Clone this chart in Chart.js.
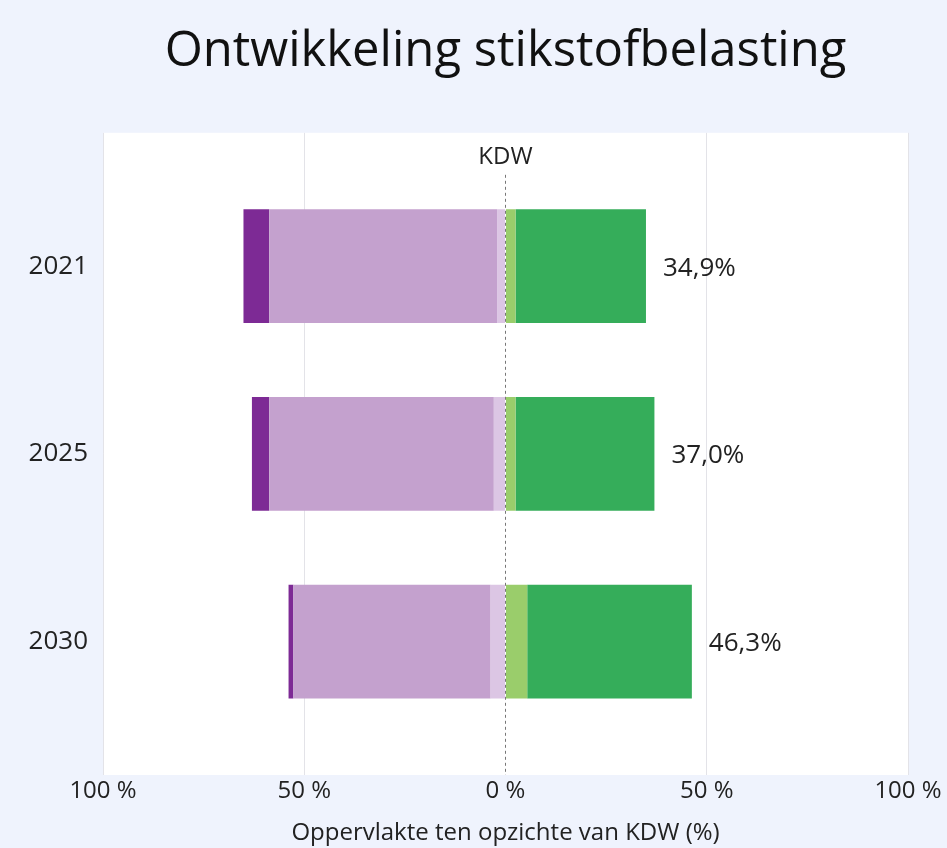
<!DOCTYPE html>
<html lang="nl">
<head>
<meta charset="utf-8">
<title>Ontwikkeling stikstofbelasting</title>
<script src="https://cdn.jsdelivr.net/npm/chart.js@4.4.1/dist/chart.umd.min.js"></script>
<style>
  html, body { margin: 0; padding: 0; background: #eff3fd; }
  canvas { display: block; }
</style>
</head>
<body>
<canvas id="grafico" width="947" height="848"></canvas>
<script>
// jaren (y-as)
const jaren = ['2021', '2025', '2030'];

// aandeel oppervlakte per klasse (%), links = overbelast, rechts = onder KDW
const lichtPaars = [2.1, 2.9, 3.7];
const middenPaars = [56.6, 55.8, 49.0];
const donkerPaars = [6.4, 4.3, 1.2];
const lichtGroen = [2.5, 2.5, 5.4];
const groen = [32.4, 34.5, 40.9];

// tick labels x-as
const xTicks = [-100, -50, 0, 50, 100];

const fontFam = '"Open Sans", "Noto Sans", sans-serif';

function punten(waarden, teken) {
    return waarden.map((v, i) => ({ x: teken * v, y: i }));
}

// witte achtergrond van het plotvlak
const plotAchtergrond = {
    id: 'plotAchtergrond',
    beforeDraw(chart) {
        const { ctx, chartArea } = chart;
        ctx.save();
        ctx.fillStyle = '#ffffff';
        ctx.fillRect(chartArea.left, chartArea.top, chartArea.right - chartArea.left, chartArea.bottom - chartArea.top);
        ctx.restore();
    }
};

// KDW-lijn en percentage labels
const extraTekst = {
    id: 'extraTekst',
    afterDatasetsDraw(chart) {
        const { ctx, chartArea } = chart;
        const x0 = chart.scales.x.getPixelForValue(0);
        ctx.save();
        ctx.strokeStyle = '#777777';
        ctx.lineWidth = 1;
        ctx.setLineDash([3, 3]);
        ctx.beginPath();
        ctx.moveTo(x0, chartArea.top + 42);
        ctx.lineTo(x0, chartArea.bottom);
        ctx.stroke();
        ctx.setLineDash([]);

        ctx.fillStyle = '#222222';
        ctx.font = '24px ' + fontFam;
        ctx.textAlign = 'center';
        ctx.textBaseline = 'middle';
        ctx.fillText('KDW', x0, chartArea.top + 24);

        const meta = chart.getDatasetMeta(chart.data.datasets.length - 1);
        ctx.textAlign = 'left';
        ctx.font = '26px ' + fontFam;
        meta.data.forEach((bar, i) => {
            const totaal = lichtGroen[i] + groen[i];
            ctx.fillText(totaal.toFixed(1).replace('.', ',') + '%', bar.x + 17, bar.y + 2);
        });
        ctx.restore();
    }
};

const ctx = document.getElementById('grafico').getContext('2d');

const grafico = new Chart(ctx, {
    type: 'bar',
    data: {
        datasets: [
            { label: 'Lichte overbelasting', data: punten(lichtPaars, -1), backgroundColor: '#dcc6e4' },
            { label: 'Matige overbelasting', data: punten(middenPaars, -1), backgroundColor: '#c4a1ce' },
            { label: 'Sterke overbelasting', data: punten(donkerPaars, -1), backgroundColor: '#7d2a95' },
            { label: 'Evenwicht', data: punten(lichtGroen, 1), backgroundColor: '#9acd6b' },
            { label: 'Geen overbelasting', data: punten(groen, 1), backgroundColor: '#35ad5a' }
        ]
    },
    options: {
        responsive: false,
        animation: false,
        indexAxis: 'y',
        layout: { padding: { left: 0, right: 39, top: 0, bottom: 0 } },
        datasets: {
            bar: { categoryPercentage: 1, barPercentage: 0.606 }
        },
        scales: {
            x: {
                type: 'linear',
                stacked: true,
                min: -100,
                max: 100,
                afterBuildTicks: function(scale) {
                    scale.ticks = xTicks.map(v => ({ value: v }));
                },
                ticks: {
                    padding: 2,
                    color: '#222222',
                    font: { family: fontFam, size: 24 },
                    callback: function(v) { return Math.abs(v) + ' %'; }
                },
                grid: {
                    drawTicks: false,
                    color: function(c) { return c.tick && c.tick.value === 0 ? 'rgba(0,0,0,0)' : '#e3e3e8'; }
                },
                border: { display: false },
                title: {
                    display: true,
                    text: 'Oppervlakte ten opzichte van KDW (%)',
                    color: '#222222',
                    font: { family: fontFam, size: 24 },
                    padding: { top: 2, bottom: 0 }
                },
                afterFit: function(scale) { scale.height = 73; }
            },
            y: {
                type: 'linear',
                stacked: true,
                reverse: true,
                offset: false,
                min: -0.71,
                max: 2.71,
                afterBuildTicks: function(scale) {
                    scale.ticks = jaren.map((j, i) => ({ value: i }));
                },
                ticks: {
                    padding: 15,
                    color: '#222222',
                    font: { family: fontFam, size: 26 },
                    callback: function(v) { return jaren[v]; }
                },
                grid: { display: false, drawTicks: false, offset: false },
                border: { display: false },
                afterFit: function(scale) { scale.width = 103; }
            }
        },
        plugins: {
            legend: { display: false },
            tooltip: { enabled: false },
            title: {
                display: true,
                fullSize: false,
                text: 'Ontwikkeling stikstofbelasting',
                color: '#111111',
                font: { family: fontFam, size: 49, weight: 'normal' },
                padding: { top: 23, bottom: 51 }
            }
        }
    },
    plugins: [plotAchtergrond, extraTekst]
});
</script>
</body>
</html>
